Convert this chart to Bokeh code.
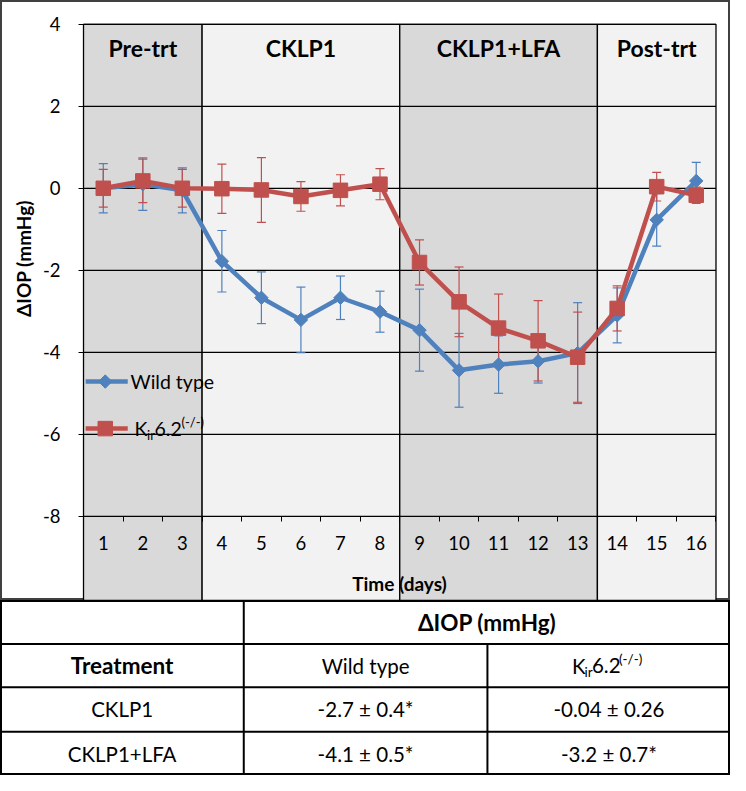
import numpy as np
from bokeh.plotting import figure
from bokeh.models import ColumnDataSource, LinearAxis, FixedTicker, Whisker, TeeHead, Range1d
from bokeh.layouts import column
from bokeh.embed import file_html
from bokeh.resources import INLINE
from bokeh.core.properties import value

# ---------------- data ----------------
days = list(range(1, 17))
wild_type = [0.0, 0.1, -0.05, -1.78, -2.67, -3.21, -2.67, -3.01, -3.46, -4.44, -4.30, -4.22, -4.02, -3.10, -0.77, 0.18]
wild_type_err = [0.60, 0.64, 0.55, 0.75, 0.63, 0.80, 0.53, 0.50, 1.00, 0.90, 0.70, 0.53, 1.23, 0.67, 0.64, 0.45]
kir62 = [0.0, 0.18, 0.0, -0.01, -0.04, -0.20, -0.05, 0.10, -1.81, -2.77, -3.41, -3.72, -4.12, -2.93, 0.04, -0.17]
kir62_err = [0.46, 0.53, 0.46, 0.60, 0.79, 0.36, 0.38, 0.38, 0.55, 0.85, 0.83, 0.98, 1.10, 0.55, 0.35, 0.20]

phase_names = ["Pre-trt", "CKLP1", "CKLP1+LFA", "Post-trt"]
phase_edges = [0.5, 3.5, 8.5, 13.5, 16.5]
phase_colors = ["#D9D9D9", "#F2F2F2", "#D9D9D9", "#F2F2F2"]
y_ticks = [-8, -6, -4, -2, 0, 2, 4]

table_header = "ΔIOP (mmHg)"
table_col_labels = ["Treatment", "Wild type"]
table_treatments = ["CKLP1", "CKLP1+LFA"]
table_wild_type = ["-2.7 ± 0.4*", "-4.1 ± 0.5*"]
table_kir62 = ["-0.04 ± 0.26", "-3.2 ± 0.7*"]

# ---------------- style ----------------
FONT = "Lato"
BLUE = "#4F81BD"
RED = "#C0504D"
W, CH, TH = 730, 600, 175
Y0, Y1 = -10.054, 4.580
X0, X1 = -1.600, 16.867

p = figure(width=W, height=CH, x_range=Range1d(X0, X1), y_range=Range1d(Y0, Y1),
           output_backend="svg", toolbar_location=None, x_axis_type=None, y_axis_type=None,
           min_border=0, min_border_left=0, min_border_right=0, min_border_top=0, min_border_bottom=0)
p.outline_line_color = "#404040"
p.outline_line_width = 3
p.background_fill_color = "white"
p.border_fill_color = "white"

# phase bands
band_src = ColumnDataSource(dict(left=phase_edges[:-1], right=phase_edges[1:], color=phase_colors,
                                 name=phase_names,
                                 mid=[(a + b) / 2 for a, b in zip(phase_edges[:-1], phase_edges[1:])]))
p.quad(left="left", right="right", bottom=Y0, top=y_ticks[-1], fill_color="color",
       line_color="black", line_width=1.3, source=band_src, level="image")

# horizontal gridlines
p.segment(x0=phase_edges[0], x1=phase_edges[-1], y0=y_ticks, y1=y_ticks,
          line_color="black", line_width=1.3, level="underlay")

p.text(x="mid", y=3.41, text="name", source=band_src, text_font=value(FONT),
       text_font_style="bold", text_font_size="23px", text_align="center",
       text_baseline="middle", text_color="black")

# series
src_wt = ColumnDataSource(dict(x=days, y=wild_type,
                               upper=[v + e for v, e in zip(wild_type, wild_type_err)],
                               lower=[v - e for v, e in zip(wild_type, wild_type_err)]))
src_kir = ColumnDataSource(dict(x=days, y=kir62,
                                upper=[v + e for v, e in zip(kir62, kir62_err)],
                                lower=[v - e for v, e in zip(kir62, kir62_err)]))

for src, col in ((src_wt, BLUE), (src_kir, RED)):
    wsk = Whisker(base="x", upper="upper", lower="lower", source=src, line_color=col, line_width=1.2,
                  upper_head=TeeHead(size=9, line_color=col, line_width=1.2),
                  lower_head=TeeHead(size=9, line_color=col, line_width=1.2), level="underlay")
    p.add_layout(wsk)

p.line("x", "y", source=src_wt, line_color=BLUE, line_width=4.5)
p.scatter("x", "y", source=src_wt, marker="square", angle=np.pi / 4, size=9.5,
          fill_color=BLUE, line_color=BLUE)
p.line("x", "y", source=src_kir, line_color=RED, line_width=4.5)
p.scatter("x", "y", source=src_kir, marker="square", size=14.5, fill_color=RED, line_color=RED)

# axes
yaxis = LinearAxis(fixed_location=phase_edges[0], ticker=FixedTicker(ticks=y_ticks),
                   bounds=(-8, 4.85), axis_label="ΔIOP (mmHg)")
yaxis.major_label_overrides = {t: str(t) for t in y_ticks}
yaxis.axis_line_color = None
yaxis.major_tick_out = 5
yaxis.major_tick_in = 0
yaxis.major_tick_line_color = "black"
yaxis.minor_tick_line_color = None
yaxis.major_label_standoff = 18
yaxis.major_label_text_font = FONT
yaxis.major_label_text_font_size = "18.5px"
yaxis.major_label_text_color = "black"
yaxis.axis_label_text_font = FONT
yaxis.axis_label_text_font_style = "bold"
yaxis.axis_label_text_font_size = "19px"
yaxis.axis_label_text_color = "black"
yaxis.axis_label_standoff = 5
p.add_layout(yaxis, "left")

xaxis = LinearAxis(fixed_location=-8,
                   ticker=FixedTicker(ticks=days, minor_ticks=[d - 0.5 for d in days] + [days[-1] + 0.5]),
                   bounds=(phase_edges[0], phase_edges[-1]), axis_label="Time (days)")
xaxis.axis_line_color = None
xaxis.major_tick_out = 0
xaxis.major_tick_in = 0
xaxis.minor_tick_out = 5
xaxis.minor_tick_in = 0
xaxis.minor_tick_line_color = "black"
xaxis.major_label_standoff = 15
xaxis.major_label_text_font = FONT
xaxis.major_label_text_font_size = "18.5px"
xaxis.major_label_text_color = "black"
xaxis.axis_label_text_font = FONT
xaxis.axis_label_text_font_style = "bold"
xaxis.axis_label_text_font_size = "19px"
xaxis.axis_label_text_color = "black"
xaxis.axis_label_standoff = 18
p.add_layout(xaxis, "below")

# legend (manual, to allow sub/superscripts)
LX0, LX1, LXM, LXT = 0.554, 1.619, 1.05, 1.69
LY = [-4.714, -5.861]
p.segment(x0=LX0, x1=LX1, y0=LY[0], y1=LY[0], line_color=BLUE, line_width=4.5)
p.scatter(x=[LXM], y=[LY[0]], marker="square", angle=np.pi / 4, size=9.5, fill_color=BLUE, line_color=BLUE)
p.segment(x0=LX0, x1=LX1, y0=LY[1], y1=LY[1], line_color=RED, line_width=4.5)
p.scatter(x=[LXM], y=[LY[1]], marker="square", size=14.5, fill_color=RED, line_color=RED)
p.text(x=[LXT], y=[LY[0]], text=["Wild type"], text_font=value(FONT), text_font_size="19.5px",
       text_align="left", text_baseline="middle", text_color="black")


def kir_label(fig, x, y, big, small, scale):
    pieces = [("K", big, 0, 0), ("ir", small, 12.5, 6), ("6.2", big, 20, 0), ("(-/-)", small, 47, -7)]
    for txt, sz, dx, dy in pieces:
        fig.text(x=[x], y=[y], text=[txt], text_font=value(FONT), text_font_size=f"{sz}px",
                 x_offset=dx * scale, y_offset=dy * scale, text_align="left", text_baseline="middle",
                 text_color="black")


kir_label(p, LXT + 0.1, LY[1], 19.5, 13, 1.0)

# ---------------- table ----------------
t = figure(width=W, height=TH, x_range=Range1d(0, 746), y_range=Range1d(790.5, 613),
           output_backend="svg", toolbar_location=None, x_axis_type=None, y_axis_type=None,
           min_border=0, min_border_left=0, min_border_right=0, min_border_top=0, min_border_bottom=0)
t.outline_line_color = "black"
t.outline_line_width = 3
t.background_fill_color = "white"
t.border_fill_color = "white"

col_edges = [0, 248.6, 497.6, 746]
row_edges = [613, 657, 701, 746, 790.5]
col_mid = [(a + b) / 2 for a, b in zip(col_edges[:-1], col_edges[1:])]
row_mid = [(a + b) / 2 for a, b in zip(row_edges[:-1], row_edges[1:])]

t.segment(x0=col_edges[0], x1=col_edges[-1], y0=row_edges[1:-1], y1=row_edges[1:-1],
          line_color="black", line_width=2)
t.segment(x0=[col_edges[1], col_edges[2]], x1=[col_edges[1], col_edges[2]],
          y0=[row_edges[0], row_edges[1]], y1=[row_edges[-1], row_edges[-1]],
          line_color="black", line_width=2)

TF = "20.5px"
TFB = "22.5px"
t.text(x=[(col_edges[1] + col_edges[3]) / 2], y=[row_mid[0]], text=[table_header], text_font=value(FONT),
       text_font_style="bold", text_font_size=TFB, text_align="center", text_baseline="middle", text_color="black")
t.text(x=[col_mid[0]], y=[row_mid[1]], text=[table_col_labels[0]], text_font=value(FONT),
       text_font_style="bold", text_font_size=TFB, text_align="center", text_baseline="middle", text_color="black")
t.text(x=[col_mid[1]], y=[row_mid[1]], text=[table_col_labels[1]], text_font=value(FONT),
       text_font_size=TF, text_align="center", text_baseline="middle", text_color="black")
kir_label(t, col_mid[2] - 37 * 746 / W, row_mid[1], 20.5, 13.5, 1.0)

tbl = ColumnDataSource(dict(y=row_mid[2:], treat=table_treatments, wt=table_wild_type, kir=table_kir62))
for ci, key in enumerate(["treat", "wt", "kir"]):
    t.text(x=col_mid[ci], y="y", text=key, source=tbl, text_font=value(FONT), text_font_size=TF,
           text_align="center", text_baseline="middle", text_color="black")

layout = column(p, t, spacing=0)
open("out.html", "w").write(file_html(layout, INLINE))
